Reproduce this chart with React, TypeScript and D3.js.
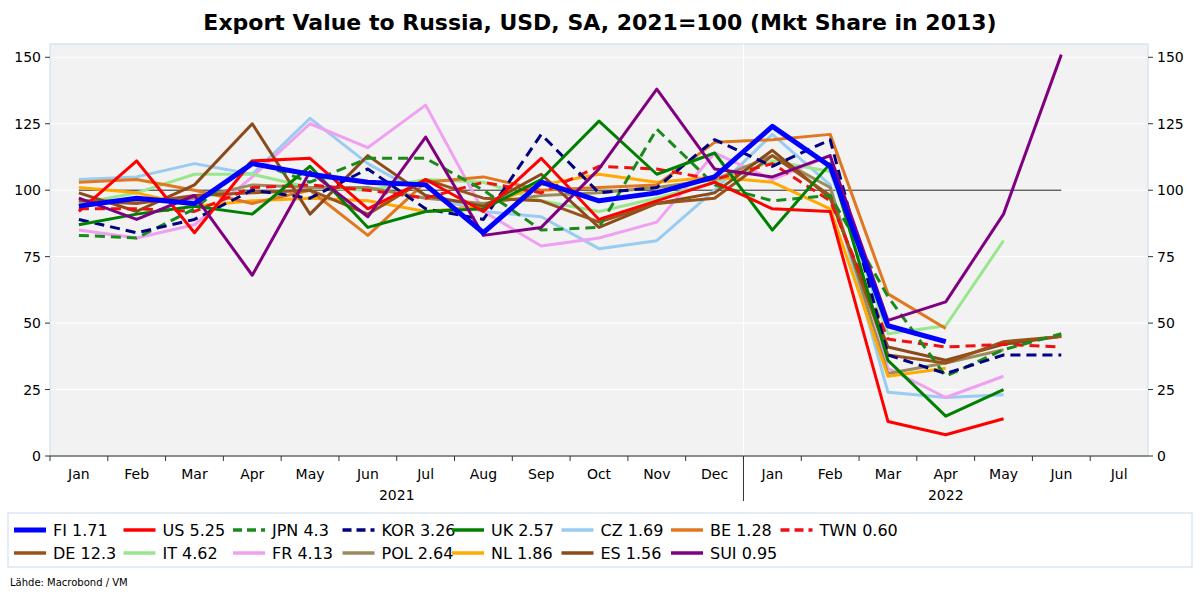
import React from "react";
import * as d3 from "d3";

const months = ["Jan","Feb","Mar","Apr","May","Jun","Jul","Aug","Sep","Oct","Nov","Dec","Jan","Feb","Mar","Apr","May","Jun","Jul"];
const yTicks = [0,25,50,75,100,125,150];

const FI = [94,97,95,110,106,103,102,84,103,96,99,105,124,109,49,43];
const US = [92,111,84,111,112,93,104,92,112,89,96,103,93,92,13,8,14];
const JPN = [83,82,93,111,103,112,112,100,85,86,123,102,96,98,60,30,40,46];
const KOR = [89,84,89,100,97,108,93,89,121,99,101,119,109,119,38,31,38,38];
const UK = [87,91,94,91,109,86,92,93,104,126,106,114,85,110,36,15,25];
const CZ = [104,105,110,106,127,110,98,92,90,78,81,100,121,102,24,22,23];
const BE = [103,104,100,95,100,83,103,105,100,101,102,118,119,121,61,48];
const TWN = [93,93,92,101,102,100,97,103,99,109,108,104,110,96,44,41,42,41];
const DE = [96,95,98,99,100,91,104,97,96,88,95,97,113,98,38,35,43,45];
const IT = [95,99,106,106,101,100,104,103,96,92,97,103,111,107,46,49,81];
const FR = [85,82,87,105,125,116,132,92,79,82,88,114,104,113,33,22,30];
const POL = [96,96,97,102,101,101,97,95,98,99,101,104,113,101,31,35,40];
const NL = [101,99,94,96,97,96,92,94,102,106,103,105,103,93,30,33];
const ES = [99,92,102,125,91,113,98,94,106,86,95,99,115,97,41,36,42,45];
const SUI = [97,89,98,68,107,90,120,83,86,108,138,108,105,113,51,58,91,151];

type S = { name: string; data: number[]; color: string; width: number; dash?: string };
const series: S[] = [
  { name: "FI 1.71", data: FI, color: "#0000ff", width: 5 },
  { name: "US 5.25", data: US, color: "#ff0000", width: 3 },
  { name: "JPN 4.3", data: JPN, color: "#1a8a1a", width: 3, dash: "10,6" },
  { name: "KOR 3.26", data: KOR, color: "#000080", width: 3, dash: "10,6" },
  { name: "UK 2.57", data: UK, color: "#008000", width: 3 },
  { name: "CZ 1.69", data: CZ, color: "#99ccf0", width: 3 },
  { name: "BE 1.28", data: BE, color: "#e07820", width: 3 },
  { name: "TWN 0.60", data: TWN, color: "#ee1111", width: 3, dash: "10,6" },
  { name: "DE 12.3", data: DE, color: "#99531a", width: 3 },
  { name: "IT 4.62", data: IT, color: "#99e68c", width: 3 },
  { name: "FR 4.13", data: FR, color: "#f0a0f0", width: 3 },
  { name: "POL 2.64", data: POL, color: "#9c8c5c", width: 3 },
  { name: "NL 1.86", data: NL, color: "#ffaa00", width: 3 },
  { name: "ES 1.56", data: ES, color: "#8b4a1a", width: 3 },
  { name: "SUI 0.95", data: SUI, color: "#800080", width: 3 },
];
const drawOrder = [5,10,9,11,12,6,13,8,7,2,3,4,1,14,0];

export default function App() {
  const L = 50, R = 1148, T = 44, B = 456;
  const x = d3.scaleLinear().domain([-0.5, 18.5]).range([L, R]);
  const y = d3.scaleLinear().domain([0, 155]).range([B, T]);
  const line = d3.line<number>().x((_, i) => x(i)).y(d => y(d));
  const font = "DejaVu Sans, Verdana, sans-serif";
  return (
    <svg width={1200} height={600} style={{ position: "absolute", left: 0, top: 0, background: "#fff" }} fontFamily={font}>
      <text x={600} y={30} textAnchor="middle" fontSize={22} fontWeight="bold">Export Value to Russia, USD, SA, 2021=100 (Mkt Share in 2013)</text>
      <rect x={L} y={T} width={R - L} height={B - T} fill="#f2f2f2" stroke="#c8dce8" />
      {yTicks.slice(1).map(t => <line key={t} x1={L} x2={R} y1={y(t)} y2={y(t)} stroke="#fff" strokeWidth={1} />)}
      <line x1={x(11.5)} x2={x(11.5)} y1={T} y2={B} stroke="#fff" />
      <line x1={L} x2={R} y1={B} y2={B} stroke="#333" />
      <line x1={x(0)} x2={x(17)} y1={y(100)} y2={y(100)} stroke="#222" strokeWidth={1} />
      {yTicks.map(t => (
        <g key={t}>
          <line x1={L - 5} x2={L} y1={y(t)} y2={y(t)} stroke="#333" />
          <line x1={R} x2={R + 5} y1={y(t)} y2={y(t)} stroke="#333" />
          <text x={L - 9} y={y(t) + 5} textAnchor="end" fontSize={14}>{t}</text>
          <text x={R + 9} y={y(t) + 5} fontSize={14}>{t}</text>
        </g>
      ))}
      {months.map((m, i) => (
        <g key={i}>
          <line x1={x(i - 0.5)} x2={x(i - 0.5)} y1={B} y2={B + 5} stroke="#333" />
          <text x={x(i)} y={B + 23} textAnchor="middle" fontSize={14}>{m}</text>
        </g>
      ))}
      <line x1={x(11.5)} x2={x(11.5)} y1={B} y2={B + 45} stroke="#333" />
      <text x={x(5.5)} y={B + 44} textAnchor="middle" fontSize={14}>2021</text>
      <text x={x(15)} y={B + 44} textAnchor="middle" fontSize={14}>2022</text>
      {drawOrder.map(k => {
        const s = series[k];
        return <path key={s.name} d={line(s.data) || ""} fill="none" stroke={s.color} strokeWidth={s.width} strokeDasharray={s.dash} strokeLinejoin="round" />;
      })}
      <rect x={8} y={513} width={1184} height={54} fill="#fff" stroke="#c8dce8" />
      {series.map((s, i) => {
        const col = i % 8, row = Math.floor(i / 8);
        const lx = 14 + col * 109.5, ly = 530 + row * 23;
        return (
          <g key={s.name}>
            <line x1={lx} x2={lx + 32} y1={ly} y2={ly} stroke={s.color} strokeWidth={s.width === 5 ? 5 : 3.5} strokeDasharray={s.dash ? "9,5" : undefined} />
            <text x={lx + 39} y={ly + 6} fontSize={16}>{s.name}</text>
          </g>
        );
      })}
      <text x={10} y={586} fontSize={10}>Lähde: Macrobond / VM</text>
    </svg>
  );
}
